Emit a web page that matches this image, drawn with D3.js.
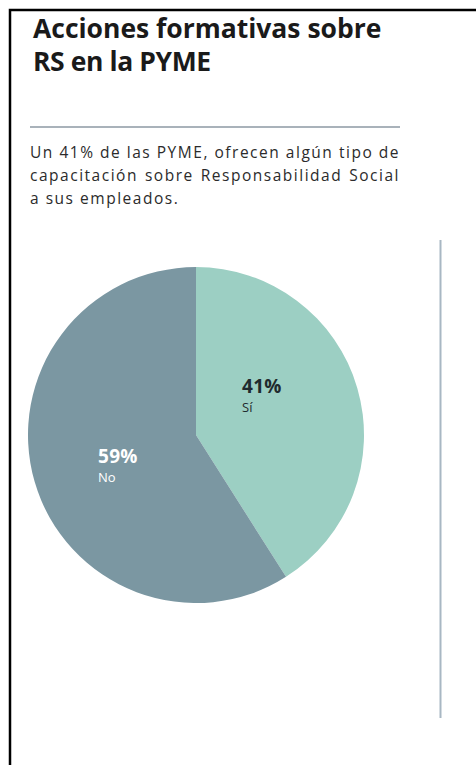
<!DOCTYPE html>
<html>
<head>
<meta charset="utf-8">
<script src="https://cdn.jsdelivr.net/npm/d3@7"></script>
<style>
  html, body { margin: 0; padding: 0; background: #fff; }
  svg { display: block; }
</style>
</head>
<body>
<svg id="chart" width="476" height="765"></svg>
<script>
// Data
const categories = ["Sí", "No"];
const values = [41, 59];
const colors = ["#9ccfc3", "#7b97a2"];
const titleLines = ["Acciones formativas sobre", "RS en la PYME"];
const bodyLines = [
  "Un 41% de las PYME, ofrecen algún tipo de",
  "capacitación sobre Responsabilidad Social",
  "a sus empleados."
];

const svg = d3.select("#chart");

// Frame (open at right and bottom)
svg.append("path")
  .attr("d", "M10,765 L10,10 L476,10")
  .attr("fill", "none")
  .attr("stroke", "#000")
  .attr("stroke-width", 2.5);

// Title, first line stretched to the width of the column
const title = svg.append("g").attr("font-family", "'Open Sans', sans-serif")
  .attr("font-weight", 700).attr("font-size", 26.5).attr("fill", "#1a1a1a");
titleLines.forEach((t, i) => {
  const tx = title.append("text").attr("x", 33).attr("y", 38 + i * 33).text(t)
    .attr("letter-spacing", -0.4);
  if (i === 0) {
    const w = tx.node().getComputedTextLength();
    tx.attr("letter-spacing", -0.4 + (348 - w) / (t.length - 1));
  }
});

// Rule under the title
svg.append("line")
  .attr("x1", 30).attr("x2", 400).attr("y1", 127).attr("y2", 127)
  .attr("stroke", "#8d99a3").attr("stroke-width", 1.6);

// Body text: tracking set so the first line fills the column,
// second line justified with word spacing
const colW = 370;
const bodyG = svg.append("g").attr("font-family", "'Open Sans', sans-serif")
  .attr("font-size", 15.5).attr("fill", "#2b2b2b");
const bodyTexts = bodyLines.map((t, i) =>
  bodyG.append("text").attr("x", 30).attr("y", 158 + i * 23).text(t));
const first = bodyTexts[0];
const track = (colW - first.node().getComputedTextLength()) / bodyLines[0].length;
bodyG.attr("letter-spacing", track);
bodyTexts.forEach((txt, i) => {
  if (i > 0 && i < bodyLines.length - 1) {
    const w = txt.node().getComputedTextLength();
    const gaps = bodyLines[i].split(" ").length - 1;
    txt.attr("word-spacing", (colW - w) / gaps);
  }
});

// Pie
const cx = 196, cy = 435, r = 168;
const pie = d3.pie().sort(null).value(d => d.value);
const arc = d3.arc().innerRadius(0).outerRadius(r);
const data = categories.map((c, i) => ({ name: c, value: values[i], color: colors[i] }));
const arcs = pie(data);

const g = svg.append("g").attr("transform", `translate(${cx},${cy})`);
g.selectAll("path").data(arcs).enter().append("path")
  .attr("d", arc)
  .attr("fill", d => d.data.color);

// Slice labels
const labelPos = [[46, -42], [-98, 28]];
const labelColor = ["#1f2a2e", "#ffffff"];
const labels = g.selectAll("g.lab").data(arcs).enter().append("g")
  .attr("class", "lab")
  .attr("transform", (d, i) => `translate(${labelPos[i][0]},${labelPos[i][1]})`)
  .attr("font-family", "'Open Sans', sans-serif")
  .attr("fill", (d, i) => labelColor[i]);
labels.append("text").attr("font-size", 19).attr("font-weight", 700)
  .attr("letter-spacing", 0.3)
  .text(d => d.data.value + "%");
labels.append("text").attr("y", 19).attr("font-size", 13)
  .text(d => d.data.name);

// Vertical divider on the right
svg.append("line")
  .attr("x1", 440.5).attr("x2", 440.5).attr("y1", 240).attr("y2", 718)
  .attr("stroke", "#a8b7c3").attr("stroke-width", 2);
</script>
</body>
</html>
